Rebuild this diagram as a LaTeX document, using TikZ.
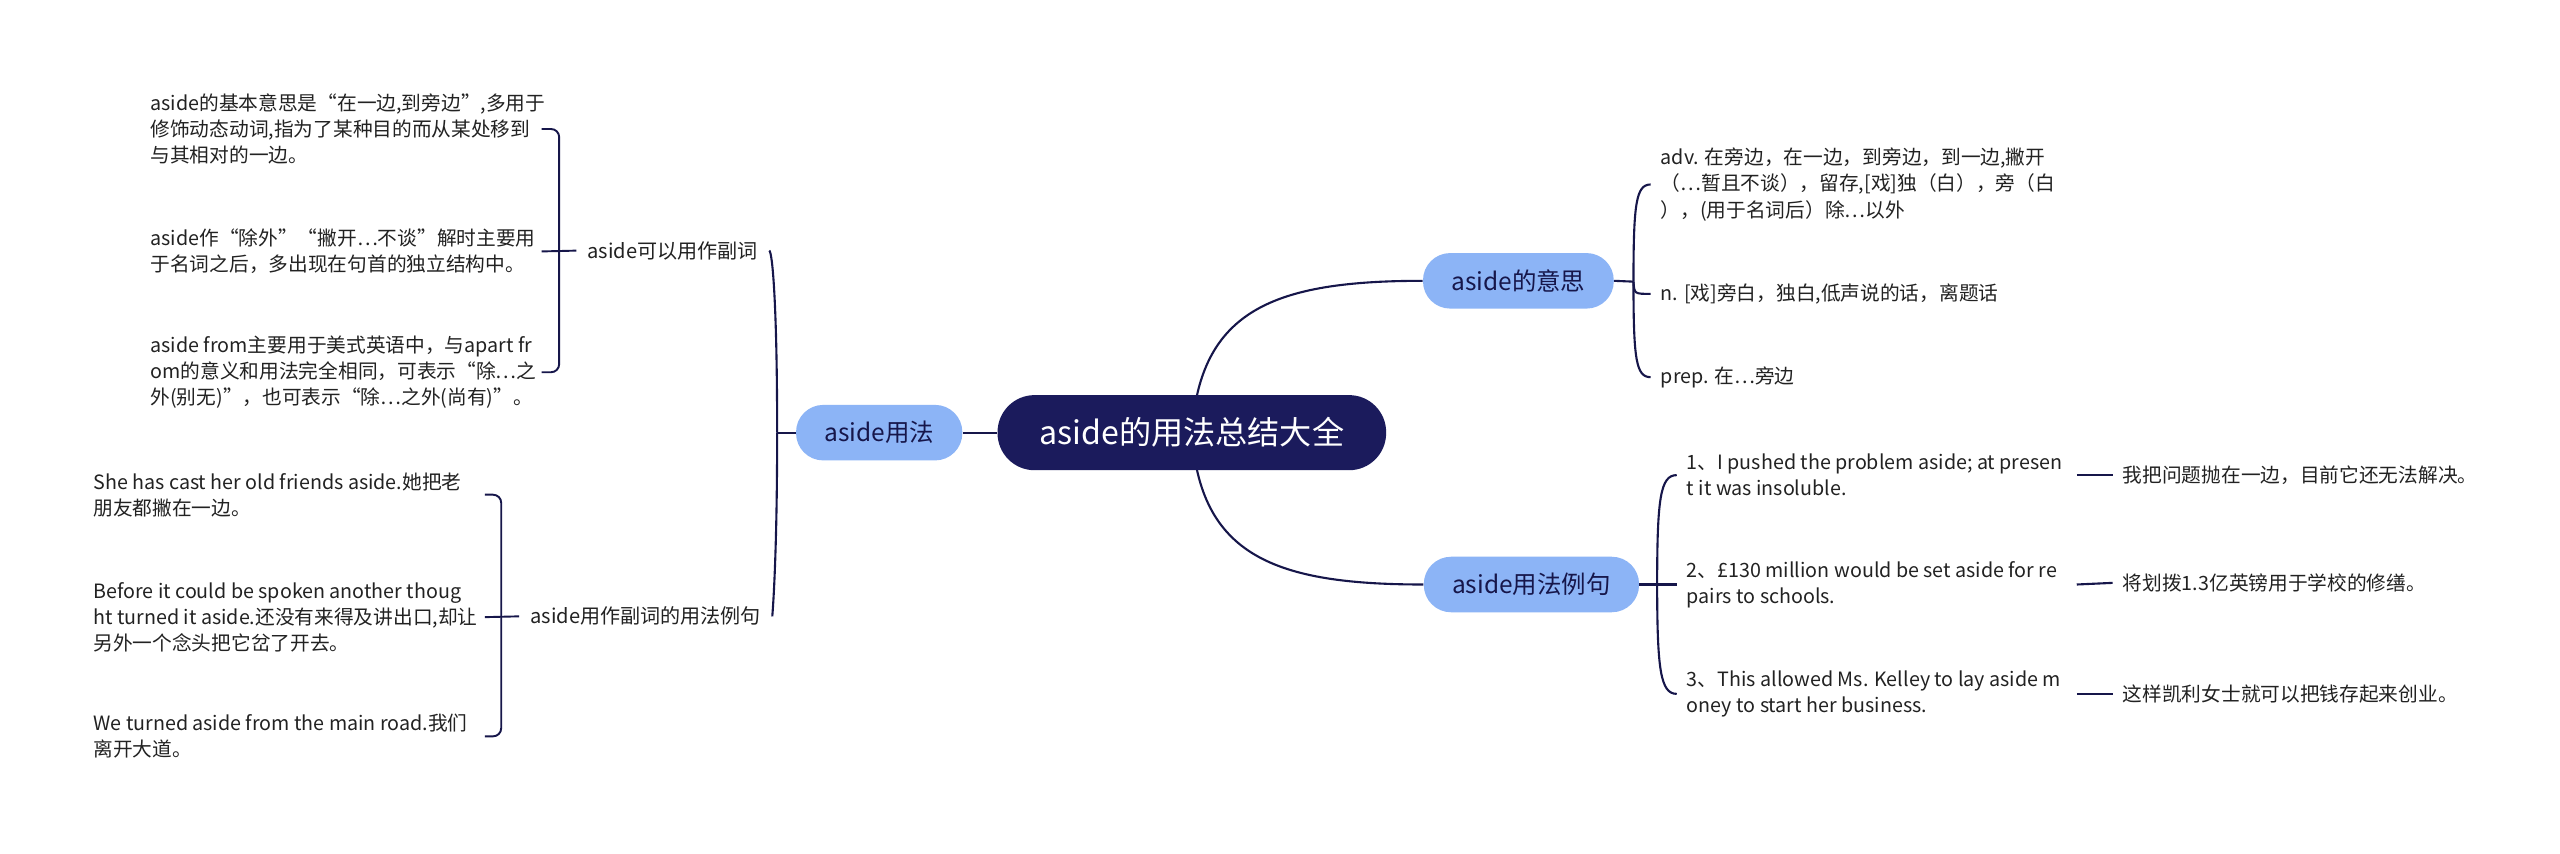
\documentclass[tikz,border=0pt]{standalone}
\usepackage{fontspec}
\setmainfont{Noto Sans CJK SC}
\usetikzlibrary{backgrounds}
\definecolor{navy}{HTML}{1B1B5C}
\definecolor{skyblue}{HTML}{8CB4F6}
\definecolor{linec}{HTML}{16164A}
\definecolor{textc}{HTML}{222222}
\tikzset{
root/.style=
    { % Central topic
        fill=navy,
        text=white,
        font=\fontsize{16.8}{19}\selectfont,
        rounded corners=0.68cm,
        minimum height=1.38cm,
        minimum width=7.14cm
    },
topic/.style=
    { % Blue main branches
        fill=skyblue,
        text=navy!80!black,
        font=\fontsize{12.8}{15}\selectfont,
        rounded corners=0.5cm,
        minimum height=1.02cm,
        inner xsep=0.52cm
    },
sub/.style={font=\fontsize{10.5}{13}\selectfont, text=textc, inner xsep=0.2cm, inner ysep=0pt, anchor=west},
leaf/.style={font=\fontsize{10.3}{13.7}\selectfont, text=textc, align=left, inner sep=0pt, anchor=west},
pad/.style={inner xsep=0.18cm}, % Gap between connector and text
link/.style={draw=linec, line width=1.1pt},
brace/.style={draw=linec, line width=1pt, rounded corners=0.15cm},
every edge/.style={link}
}

\begin{document}
\begin{tikzpicture}[x=0.03cm, y=-0.03cm]
\useasboundingbox (0,0) rectangle (1568,523);

\node [root]  (0) at (730,265) {aside的用法总结大全};
\node [topic] (1) at (538.5,265) {aside用法};
\node [topic] (2) at (930,172) {aside的意思};
\node [topic] (3) at (938,358) {aside用法例句};

\node [sub] (4) at (353,153.5) {aside可以用作副词};
\node [sub] (5) at (318,377.5) {aside用作副词的用法例句};

% aside可以用作副词
\node [leaf] (6) at (92,79) {aside的基本意思是“在一边,到旁边”,多用于\\修饰动态动词,指为了某种目的而从某处移到\\与其相对的一边。};
\node [leaf] (7) at (92,154) {aside作“除外”“撇开…不谈”解时主要用\\于名词之后，多出现在句首的独立结构中。};
\node [leaf] (8) at (92,228) {aside from主要用于美式英语中，与apart fr\\om的意义和用法完全相同，可表示“除…之\\外(别无)”，也可表示“除…之外(尚有)”。};

% aside用作副词的用法例句
\node [leaf] (9)  at (57,303) {She has cast her old friends aside.她把老\\朋友都撇在一边。};
\node [leaf] (10) at (57,378) {Before it could be spoken another thoug\\ht turned it aside.还没有来得及讲出口,却让\\另外一个念头把它岔了开去。};
\node [leaf] (11) at (57,451) {We turned aside from the main road.我们\\离开大道。};

% aside的意思
\node [leaf,pad] (12) at (1011,113) {adv. 在旁边，在一边，到旁边，到一边,撇开\\（…暂且不谈），留存,[戏]独（白），旁（白\\），(用于名词后）除…以外};
\node [leaf,pad] (13) at (1011,180) {n. [戏]旁白，独白,低声说的话，离题话};
\node [leaf,pad] (14) at (1011,231) {prep. 在…旁边};

% aside用法例句
\node [leaf,pad] (15) at (1027,291) {1、I pushed the problem aside; at presen\\t it was insoluble.};
\node [leaf,pad] (16) at (1027,358) {2、£130 million would be set aside for re\\pairs to schools.};
\node [leaf,pad] (17) at (1027,425) {3、This allowed Ms. Kelley to lay aside m\\oney to start her business.};
\node [leaf,pad] (18) at (1294,291) {我把问题抛在一边，目前它还无法解决。};
\node [leaf,pad] (19) at (1294,357) {将划拨1.3亿英镑用于学校的修缮。};
\node [leaf,pad] (20) at (1294,425) {这样凯利女士就可以把钱存起来创业。};

\coordinate (j1) at (476,265);
\coordinate (k1) at (342.5,153.5);
\coordinate (s1) at (331.7,153.5);
\coordinate (k2) at (307,377.5);
\coordinate (s2) at (297,377.5);
\coordinate (j2) at (1000.5,172.5);
\coordinate (j3) at (1015,357.5);
\coordinate (q)  at (1272,357);

\begin{scope}[on background layer]
\fill[white] (0,0) rectangle (1568,523);
\draw[link] (0.center) .. controls (735,190) and (780,172) .. (2.west);
\draw[link] (0.center) .. controls (735,340) and (780,358) .. (3.west);
\end{scope}

\draw
    (0) edge (1)
    (1.west) edge (j1)
    (2.east) edge (j2)
    (3.east) edge (16.west)
    (15 -| q) edge (18.west)
    (16 -| q) edge (19.west)
    (17 -| q) edge (20.west);

\draw[link] (j1) .. controls (476,185) and (473,153.5) .. (4.east);
\draw[link] (j1) .. controls (476,345) and (473,377.5) .. (5.east);

\draw[brace] (6 -| s1) -| (k1) |- (8 -| s1);
\draw[brace] (4.west) -- (7 -| s1);
\draw[brace] (9 -| s2) -| (k2) |- (11 -| s2);
\draw[brace] (5.west) -- (10 -| s2);

\draw[link] (j2) .. controls (1000.5,125) and (1002,113) .. (12.west);
\draw[link] (j2) .. controls (1001,180) .. (13.west);
\draw[link] (j2) .. controls (1000.5,220) and (1002,231) .. (14.west);

\draw[link] (j3) .. controls (1015,305) and (1017,291) .. (15.west);
\draw[link] (j3) .. controls (1015,410) and (1017,425) .. (17.west);
\end{tikzpicture}
\end{document}
